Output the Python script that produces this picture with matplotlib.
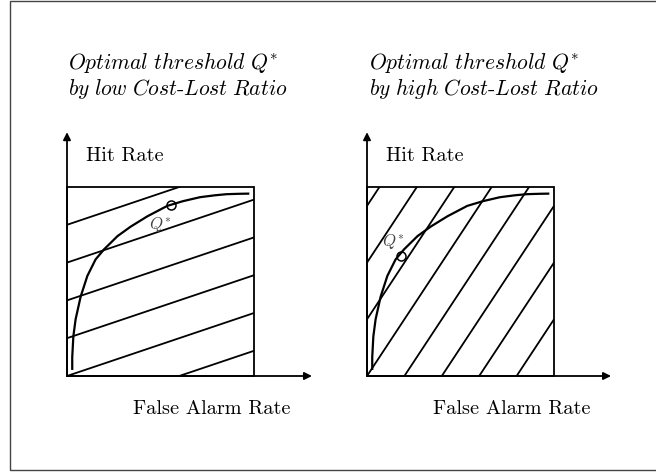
import matplotlib
matplotlib.use("Agg")
import matplotlib.pyplot as plt
from matplotlib.patches import Rectangle

plt.rcParams["font.family"] = "cmr10"
plt.rcParams["mathtext.fontset"] = "cm"
plt.rcParams["axes.formatter.use_mathtext"] = True

# ROC curve (false alarm rate, hit rate)
far = [0.028, 0.028, 0.034, 0.046, 0.073, 0.109, 0.153, 0.198, 0.27,
       0.34, 0.43, 0.536, 0.62, 0.711, 0.79, 0.854, 0.92, 0.975]
hit = [0.032, 0.10, 0.21, 0.30, 0.42, 0.53, 0.617, 0.67, 0.74,
       0.79, 0.845, 0.90, 0.925, 0.946, 0.956, 0.962, 0.964, 0.965]

# iso-value lines: low ratio -> y = slope*x + c, high ratio -> y = slope*(x - b)
low_slope = 1 / 3
low_intercepts = [-0.2, 0.0, 0.2, 0.4, 0.6, 0.8]
high_slope = 1.5
high_offsets = [-0.6, -0.4, -0.2, 0.0, 0.2, 0.4, 0.6, 0.8]

# optimal points Q*
q_low = (0.554, 0.905)
q_high = (0.184, 0.635)

second_lines = [["by low Cost", "Lost Ratio"],
                ["by high Cost", "Lost Ratio"]]

fig = plt.figure(figsize=(6.56, 4.74), dpi=100)

# outer frame
fig.patches.append(Rectangle((10 / 656, 4 / 474), 1.0, 469 / 474,
                             transform=fig.transFigure, fill=False,
                             edgecolor="#444444", lw=1.0))

W, H = 187 / 656, 189 / 474
ax1 = fig.add_axes([67 / 656, 98 / 474, W, H])
ax2 = fig.add_axes([367 / 656, 98 / 474, W, H])

LW = 1.3


def panel(ax, kind, q, qlabel_xy, x_arrow):
    ax.set_xlim(0, 1)
    ax.set_ylim(0, 1)
    ax.axis("off")

    box = Rectangle((0, 0), 1, 1, fill=False, edgecolor="black", lw=LW,
                    transform=ax.transData, clip_on=False)
    ax.add_patch(box)

    if kind == "low":
        for c in low_intercepts:
            ln = ax.axline((0, c), slope=low_slope, color="black", lw=LW)
            ln.set_clip_path(box)
    else:
        for b in high_offsets:
            ln = ax.axline((b, 0), slope=high_slope, color="black", lw=LW)
            ln.set_clip_path(box)

    ax.plot(far, hit, color="black", lw=1.6, solid_capstyle="butt",
            solid_joinstyle="round")
    ax.plot([q[0]], [q[1]], marker="o", markersize=6.5, markerfacecolor="none",
            markeredgecolor="black", markeredgewidth=1.1, zorder=5)
    ax.text(qlabel_xy[0], qlabel_xy[1], "$Q^{*}$", fontsize=12,
            color="#444444", ha="center", va="center")

    # axes arrows
    ax.annotate("", xy=(0, 1.29), xytext=(0, 0), annotation_clip=False,
                arrowprops=dict(arrowstyle="-|>", color="black", lw=LW,
                                mutation_scale=11, shrinkA=0, shrinkB=0))
    ax.annotate("", xy=(x_arrow, 0), xytext=(0, 0), annotation_clip=False,
                arrowprops=dict(arrowstyle="-|>", color="black", lw=LW,
                                mutation_scale=11, shrinkA=0, shrinkB=0))

    ax.text(0.10, 1.139, "Hit Rate", fontsize=14.6, ha="left", va="baseline",
            clip_on=False)
    ax.text(0.353, -0.20, "False Alarm Rate", fontsize=14.6, ha="left",
            va="baseline", clip_on=False)


panel(ax1, "low", q_low, (0.50, 0.80), 1.31)
panel(ax2, "high", q_high, (0.141, 0.71), 1.305)


def title(ax, x, second):
    ax.text(x, 1.623, r"$\mathit{Optimal\ threshold}\ Q^{*}$", fontsize=15.5,
            ha="left", va="baseline", clip_on=False)
    a = second[0].replace(" ", r"\ ")
    b = second[1].replace(" ", r"\ ")
    ax.text(x, 1.487, r"$\mathit{" + a + r"}$-$\mathit{" + b + r"}$",
            fontsize=15.5, ha="left", va="baseline", clip_on=False)


title(ax1, 0.005, second_lines[0])
title(ax2, 0.01, second_lines[1])

fig.savefig("out.png", dpi=100)
